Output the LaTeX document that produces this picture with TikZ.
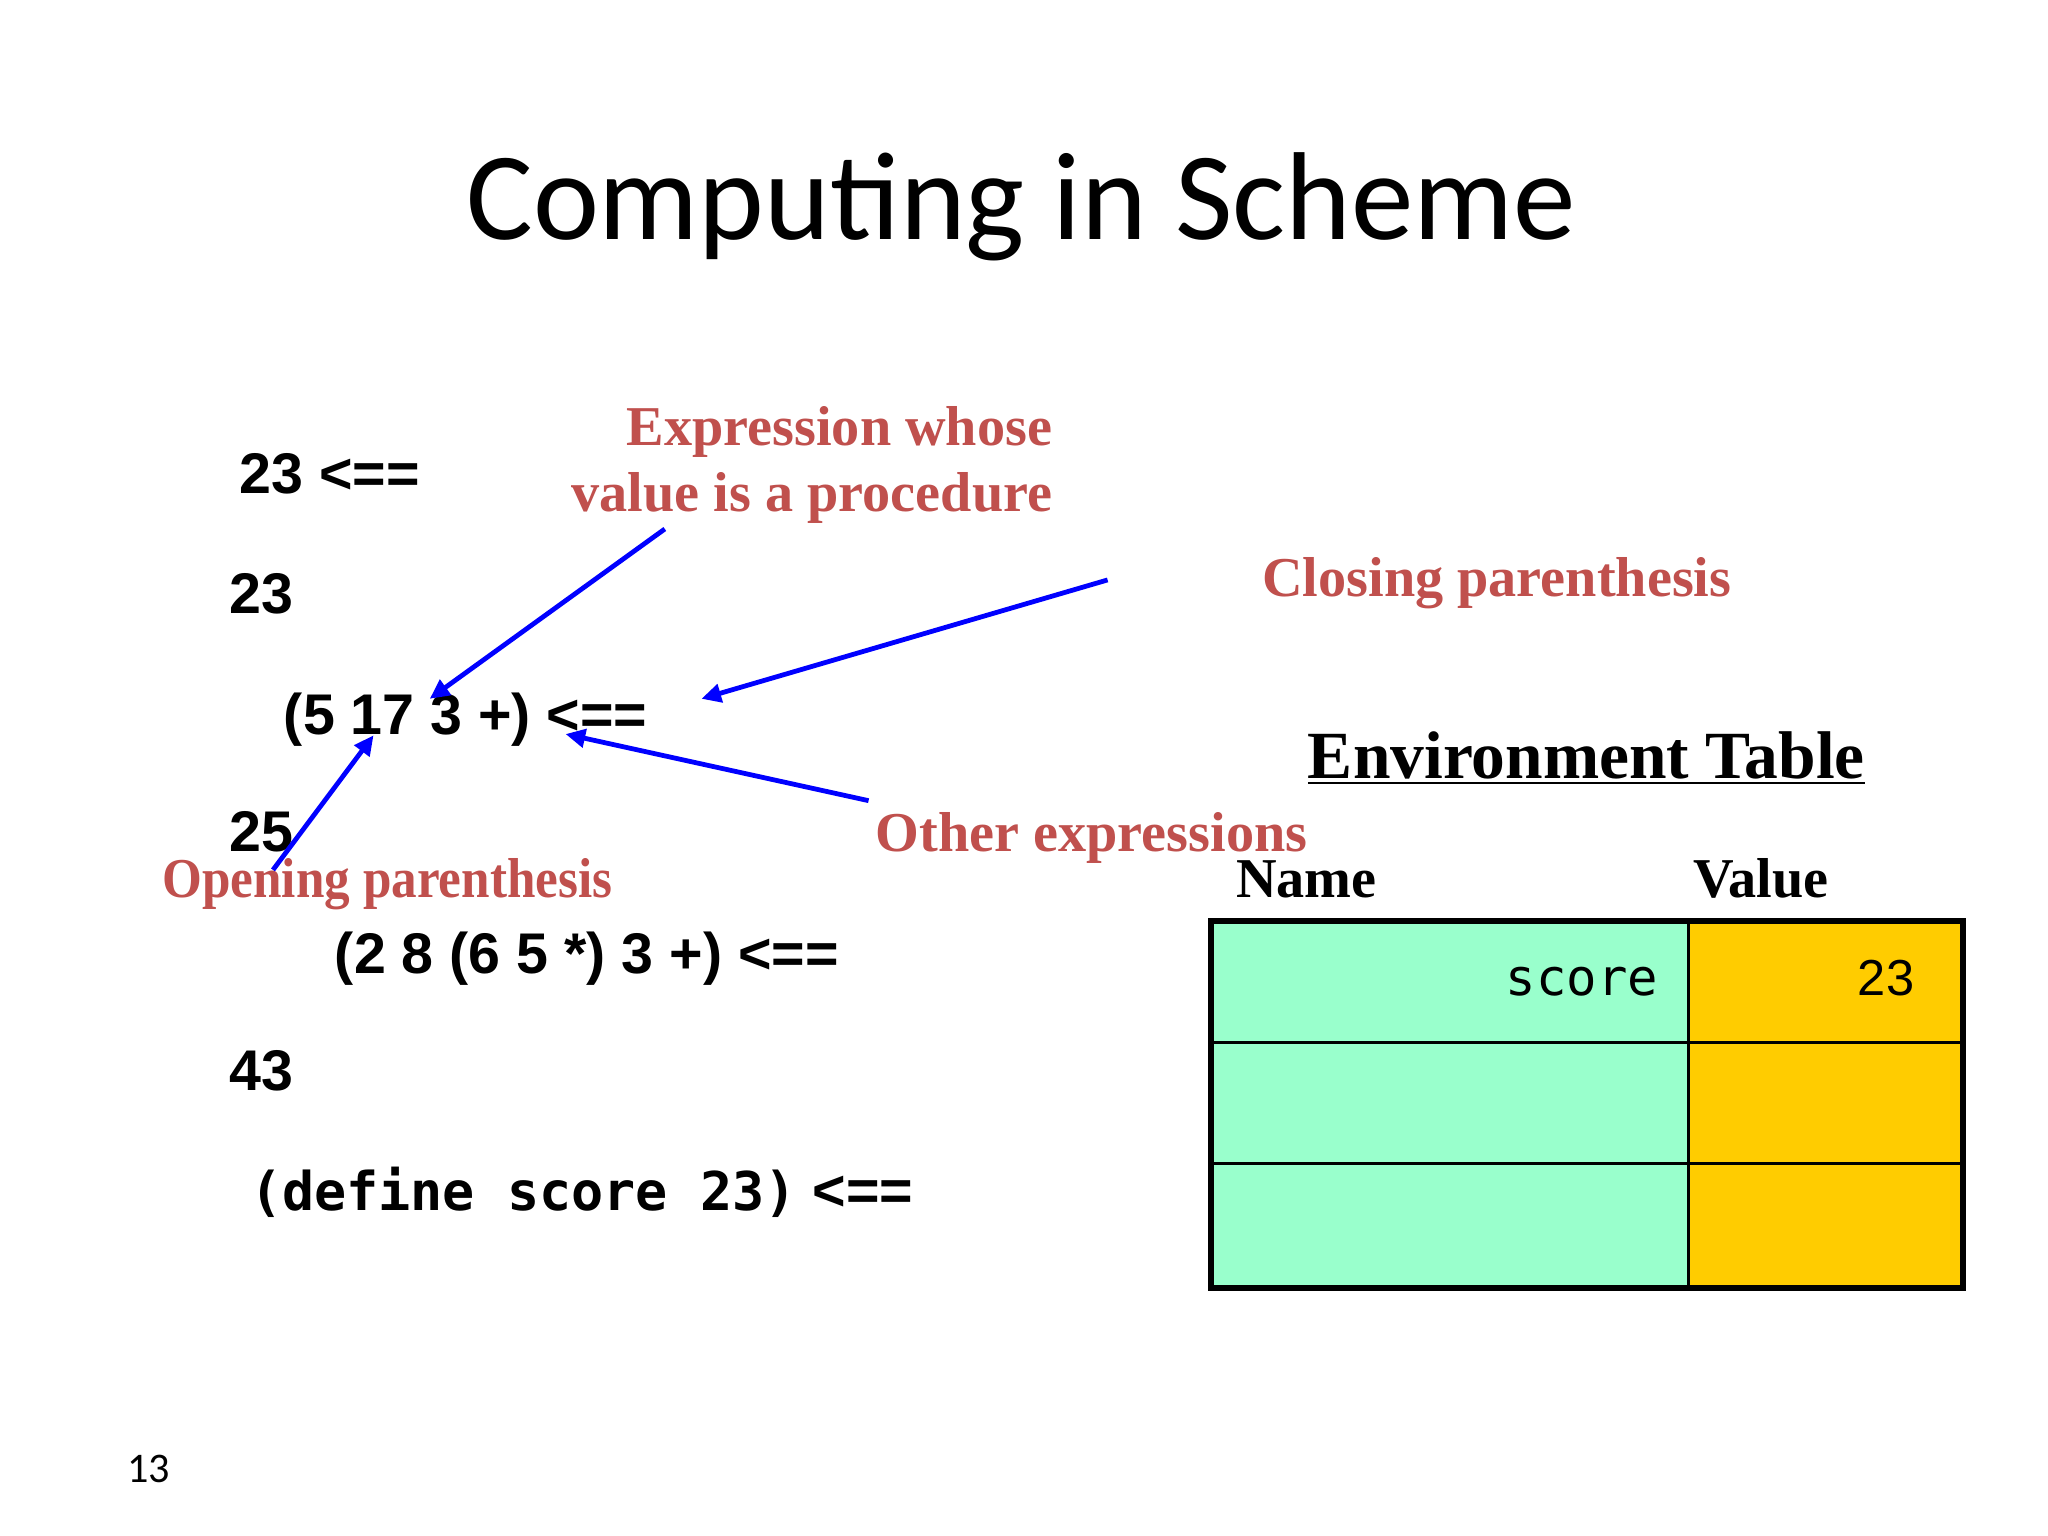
\documentclass[tikz,border=0pt]{standalone}
\usepackage{fontspec}
\usepackage{xcolor}
\usepackage{graphicx}
\setmainfont{Liberation Serif}
\setmonofont{DejaVu Sans Mono}
\newfontfamily\slidefont{Carlito}
\newfontfamily\codefont{Liberation Sans}
\usetikzlibrary{calc, positioning, arrows.meta}

\definecolor{notered}{RGB}{192,80,77}
\definecolor{namecell}{RGB}{153,255,204}
\definecolor{valuecell}{RGB}{255,204,0}

\tikzset{
  code/.style={anchor=base west, inner sep=0pt,
    font=\codefont\bfseries\fontsize{20.4}{24}\selectfont},
  note/.style={inner sep=0pt, text=notered,
    font=\bfseries\fontsize{20}{23.2}\selectfont},
  head/.style={anchor=base west, inner sep=0pt,
    font=\bfseries\fontsize{20}{24}\selectfont},
  entry/.style={anchor=base east, inner sep=0pt},
  pointer/.style={draw=blue, line width=1.7pt,
    -{Triangle[length=7pt,width=6.5pt]}},
  cellrule/.style={line width=1pt}
}

\begin{document}
\begin{tikzpicture}[x=0.01633cm, y=-0.01633cm]
  \fill [white] (0,0) rectangle (1568,1176);
  \useasboundingbox (0,0) rectangle (1568,1176);

  % Slide title and page number
  \node [anchor=base, inner sep=0pt,
    font=\slidefont\fontsize{44.5}{50}\selectfont] (title) at (782,183)
    {Computing in Scheme};
  \node [anchor=base west, inner sep=0pt,
    font=\slidefont\fontsize{15}{18}\selectfont] (page) at (97,1135) {13};

  % What is typed to the interpreter, and what it answers
  \node [code] (in1) at (183,378) {23 <==};
  \node [code] (out1) at (175,470) {23};
  \node [code] (in2) at (217,562) {(5 17 3 +) <==};
  \node [code] (out2) at (175,652) {25};
  \node [code] (in3) at (256,745) {(2 8 (6 5 *) 3 +) <==};
  \node [code] (out3) at (175,835) {43};
  \node [code] (in4) at (191,927)
    {{\ttfamily\bfseries\fontsize{19}{22}\selectfont (define score 23)} <==};

  % Notes on the parts of an expression
  \node [note, anchor=north east, align=right] (proc) at (806,311)
    {Expression whose\\value is a procedure};
  \node [note, anchor=base west] (close) at (966,457) {Closing parenthesis};
  \node [note, anchor=base west] (other) at (670,652) {Other expressions};
  \node [note, anchor=base west] (open) at (124,687)
    {\scalebox{0.91}[1]{Opening parenthesis}};

  % Ends of the pointers
  \coordinate (proctail) at (509,405);
  \coordinate (proctip) at (329,535);
  \coordinate (closetail) at (848,444);
  \coordinate (closetip) at (537,535);
  \coordinate (othertail) at (665,613);
  \coordinate (othertip) at (433,562);
  \coordinate (opentail) at (209,666);
  \coordinate (opentip) at (286,563);

  \draw [pointer] (proctail) -- (proctip);
  \draw [pointer] (closetail) -- (closetip);
  \draw [pointer] (othertail) -- (othertip);
  \draw [pointer] (opentail) -- (opentip);

  % Environment table
  \node [head, font=\bfseries\fontsize{24}{28}\selectfont] (envt) at (1001,596)
    {\underline{Environment Table}};
  \node [head] (namehead) at (946,687) {Name};
  \node [head] (valuehead) at (1296,687) {Value};

  \fill [namecell] (927,705) rectangle (1293,986);
  \fill [valuecell] (1293,705) rectangle (1503,986);
  \draw [cellrule] (927,798) -- (1503,798);
  \draw [cellrule] (927,891) -- (1503,891);
  \draw [cellrule] (1293,705) -- (1293,986);
  \draw [line width=2.2pt] (927,705) rectangle (1503,986);

  \node [entry, font=\ttfamily\fontsize{18}{22}\selectfont] (sym) at (1270,762)
    {score};
  \node [entry, font=\codefont\fontsize{18}{22}\selectfont] (val) at (1466,762)
    {23};
\end{tikzpicture}
\end{document}
